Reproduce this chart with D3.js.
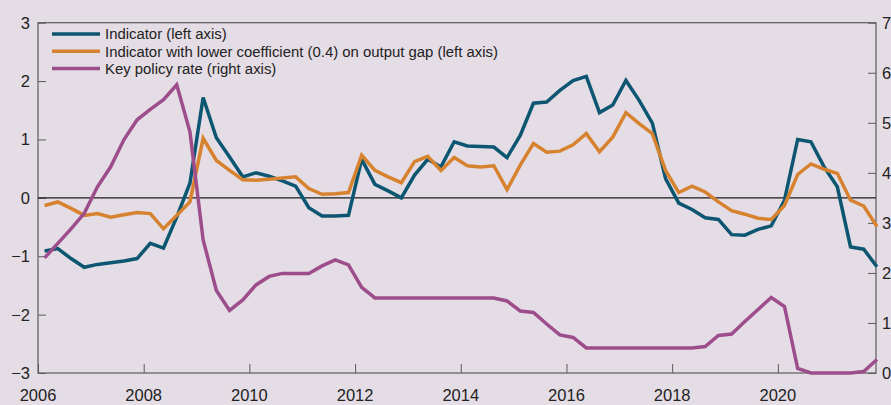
<!DOCTYPE html>
<html>
<head>
<meta charset="utf-8">
<script src="https://cdn.jsdelivr.net/npm/d3@7"></script>
<style>
  html, body { margin: 0; padding: 0; background: #e5dde5; }
  svg { display: block; font-family: "Liberation Sans", Arial, sans-serif; }
</style>
</head>
<body>
<div id="chart"></div>
<script>
// quarterly observations, 2006 Q1 - 2021 Q4 (plotted mid-quarter)
const quarters = d3.range(2006, 2022).flatMap((y) => [1, 2, 3, 4].map((q) => `${y}Q${q}`));

const indicator = [
  -0.91, -0.87, -1.04, -1.19, -1.14, -1.11, -1.08, -1.04, -0.78, -0.86,
  -0.33, 0.25, 1.72, 1.03, 0.70, 0.36, 0.43, 0.37, 0.29, 0.20,
  -0.17, -0.31, -0.31, -0.30, 0.66, 0.23, 0.12, 0.00, 0.39, 0.66,
  0.53, 0.96, 0.89, 0.88, 0.87, 0.69, 1.07, 1.62, 1.64, 1.84,
  2.01, 2.08, 1.46, 1.59, 2.01, 1.67, 1.28, 0.33, -0.09, -0.20,
  -0.34, -0.37, -0.63, -0.64, -0.54, -0.48, -0.04, 1.00, 0.96, 0.53,
  0.19, -0.84, -0.88, -1.18
];

const indicatorLow = [
  -0.13, -0.07, -0.18, -0.30, -0.27, -0.33, -0.29, -0.25, -0.27, -0.53,
  -0.30, -0.07, 1.02, 0.64, 0.47, 0.31, 0.30, 0.32, 0.34, 0.36,
  0.16, 0.06, 0.07, 0.09, 0.73, 0.47, 0.36, 0.26, 0.62, 0.71,
  0.47, 0.69, 0.55, 0.53, 0.55, 0.14, 0.56, 0.93, 0.78, 0.80,
  0.91, 1.10, 0.79, 1.04, 1.46, 1.27, 1.10, 0.47, 0.09, 0.20,
  0.10, -0.07, -0.22, -0.28, -0.35, -0.37, -0.13, 0.40, 0.58, 0.49,
  0.42, -0.04, -0.14, -0.49
];

const policyRate = [
  2.30, 2.59, 2.88, 3.19, 3.72, 4.12, 4.66, 5.06, 5.27, 5.46,
  5.76, 4.82, 2.66, 1.65, 1.25, 1.46, 1.76, 1.93, 1.99, 1.99,
  1.99, 2.14, 2.26, 2.16, 1.71, 1.50, 1.50, 1.50, 1.50, 1.50,
  1.50, 1.50, 1.50, 1.50, 1.50, 1.44, 1.24, 1.21, 0.98, 0.76,
  0.71, 0.50, 0.50, 0.50, 0.50, 0.50, 0.50, 0.50, 0.50, 0.50,
  0.53, 0.75, 0.78, 1.03, 1.27, 1.51, 1.33, 0.09, 0.00, 0.00,
  0.00, 0.00, 0.03, 0.27
];

const leftTicks = [-3, -2, -1, 0, 1, 2, 3];
const rightTicks = [0, 1, 2, 3, 4, 5, 6, 7];
const yearTicks = [2006, 2008, 2010, 2012, 2014, 2016, 2018, 2020];

const series = [
  { name: "Indicator (left axis)", values: indicator, axis: "left", color: "#0d5672" },
  { name: "Indicator with lower coefficient (0.4) on output gap (left axis)", values: indicatorLow, axis: "left", color: "#d6822f" },
  { name: "Key policy rate (right axis)", values: policyRate, axis: "right", color: "#9d4d8c" },
];

const W = 891, H = 405;
const m = { left: 38, right: 876, top: 22.7, bottom: 373 };

const svg = d3.select("#chart").append("svg").attr("width", W).attr("height", H);
svg.append("rect").attr("width", W).attr("height", H).attr("fill", "#e5dde5");

const toYear = (q) => +q.slice(0, 4) + (+q.slice(5) - 1) * 0.25 + 0.125;

const x = d3.scaleLinear().domain([2006, 2021.857]).range([m.left, m.right]);
const yL = d3.scaleLinear().domain([-3, 3]).range([m.bottom, m.top]);
const yR = d3.scaleLinear().domain([0, 7]).range([m.bottom, m.top]);

const axisColor = "#5a5a5a";
const textColor = "#222";

// left axis
const gL = svg.append("g").attr("transform", `translate(${m.left},0)`)
  .call(d3.axisRight(yL).tickValues(leftTicks).tickSize(8).tickFormat(""));
// right axis
const gR = svg.append("g").attr("transform", `translate(${m.right},0)`)
  .call(d3.axisLeft(yR).tickValues(rightTicks).tickSize(8).tickFormat(""));
// bottom axis
const gB = svg.append("g").attr("transform", `translate(0,${m.bottom})`)
  .call(d3.axisTop(x).tickValues(yearTicks).tickSize(9).tickFormat(""));

[gL, gR, gB].forEach((g) => {
  g.select(".domain").remove();
  g.selectAll(".tick line").attr("stroke", axisColor).attr("stroke-width", 1);
});

// frame
svg.append("rect")
  .attr("x", m.left).attr("y", m.top)
  .attr("width", m.right - m.left).attr("height", m.bottom - m.top)
  .attr("fill", "none").attr("stroke", axisColor).attr("stroke-width", 1.2);

// tick labels
svg.append("g").selectAll("text").data(leftTicks).join("text")
  .attr("x", 30).attr("y", (d) => yL(d)).attr("dy", "0.36em")
  .attr("text-anchor", "end").attr("font-size", 16.5).attr("fill", textColor)
  .text((d) => (d < 0 ? "\u2212" + Math.abs(d) : d));

svg.append("g").selectAll("text").data(rightTicks).join("text")
  .attr("x", 882).attr("y", (d) => yR(d)).attr("dy", "0.36em")
  .attr("text-anchor", "start").attr("font-size", 16.5).attr("fill", textColor)
  .text((d) => d);

svg.append("g").selectAll("text").data(yearTicks).join("text")
  .attr("x", (d) => x(d)).attr("y", 401)
  .attr("text-anchor", "middle").attr("font-size", 16.5).attr("fill", textColor)
  .text((d) => d);

// zero line
svg.append("line")
  .attr("x1", m.left).attr("x2", m.right)
  .attr("y1", yL(0)).attr("y2", yL(0))
  .attr("stroke", "#1a1a1a").attr("stroke-width", 1.4);

// series lines
series.forEach((s) => {
  const yScale = s.axis === "left" ? yL : yR;
  const line = d3.line()
    .x((d, i) => x(toYear(quarters[i])))
    .y((d) => yScale(d));
  svg.append("path")
    .datum(s.values)
    .attr("d", line)
    .attr("fill", "none")
    .attr("stroke", s.color)
    .attr("stroke-width", 3.5)
    .attr("stroke-linejoin", "miter");
});

// legend
const legend = svg.append("g");
series.forEach((s, i) => {
  const yy = 34 + i * 17.3;
  legend.append("line")
    .attr("x1", 52).attr("x2", 100).attr("y1", yy).attr("y2", yy)
    .attr("stroke", s.color).attr("stroke-width", 3.5);
  legend.append("text")
    .attr("x", 105).attr("y", yy).attr("dy", "0.36em")
    .attr("font-size", 14.9).attr("fill", textColor)
    .text(s.name);
});
</script>
</body>
</html>
